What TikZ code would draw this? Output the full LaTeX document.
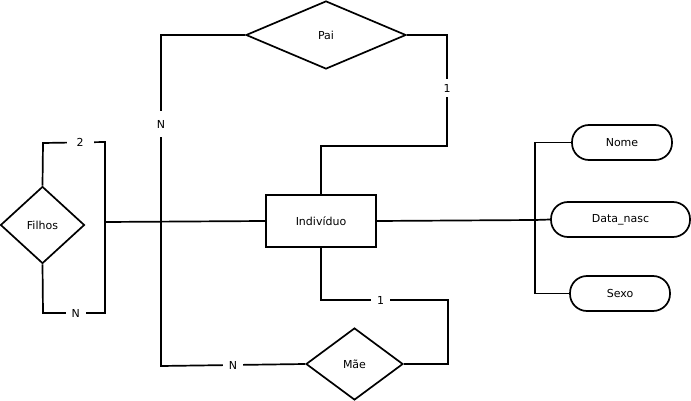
\documentclass[tikz,border=0pt]{standalone}
\usepackage{fontspec}
\setmainfont{DejaVu Sans}
\usetikzlibrary{shapes.geometric}
\begin{document}
\begin{tikzpicture}[x=1pt,y=-1pt,line width=1.7pt,
  font=\fontsize{11}{13}\selectfont,
  rel/.style={diamond,draw,inner sep=0pt},
  ent/.style={rectangle,draw,inner sep=0pt,minimum width=110pt,minimum height=52pt},
  attr/.style={rectangle,draw,rounded corners=17pt,inner sep=0pt,minimum height=35pt},
  lbl/.style={fill=white,inner xsep=6pt,inner ysep=5pt}]
\useasboundingbox (0,0) rectangle (691,401);
\node[rel,minimum width=160pt,minimum height=68pt] (pai) at (326,35) {Pai};
\node[rel,minimum width=84pt,minimum height=77pt] (fil) at (42.5,225) {Filhos};
\node[rel,minimum width=97pt,minimum height=72pt] (mae) at (354.5,364) {Mãe};
\node[ent] (ind) at (321,221) {Indivíduo};
\node[attr,minimum width=100pt] (nome) at (622,142.5) {Nome};
\node[attr,minimum width=139pt] (dn) at (620.5,219.5) {Data\_nasc};
\node[attr,minimum width=100pt] (sexo) at (620,293.5) {Sexo};
\coordinate (tl) at (161,35);
\coordinate (bl) at (161,366);
\coordinate (pr) at (447,35);
\coordinate (pb) at (447,146);
\coordinate (pc) at (321,146);
\coordinate (fb) at (105,222);
\coordinate (ft) at (105,142);
\coordinate (fd) at (105,313);
\coordinate (fl) at (43,143);
\coordinate (fk) at (43,313);
\coordinate (mr) at (448,364);
\coordinate (mt) at (448,300);
\coordinate (mc) at (321,300);
\coordinate (aj) at (535,220);
\coordinate (at) at (535,142.5);
\coordinate (ab) at (535,293.5);
\draw (pai.west) -- (tl) -- node[lbl,pos=0.27,inner ysep=9pt]{N} (bl) -- node[lbl]{N} (mae.west);
\draw (pai.east) -- (pr) -- node[lbl,pos=0.48]{1} (pb) -- (pc) -- (ind.north);
\draw (ind.west) -- (fb);
\draw (fil.north) -- (fl) -- node[lbl,pos=0.6,inner xsep=10pt]{2} (ft) -- (fd) -- node[lbl,pos=0.47]{N} (fk) -- (fil.south);
\draw (mae.east) -- (mr) -- (mt) -- node[lbl,pos=0.53]{1} (mc) -- (ind.south);
\draw (ind.east) -- (aj) -- (dn.west);
\draw (nome.west) -- (at) -- (ab) -- (sexo.west);
\end{tikzpicture}
\end{document}
